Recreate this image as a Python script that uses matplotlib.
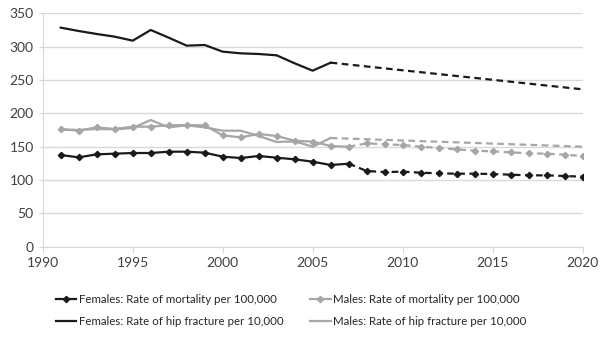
import matplotlib.pyplot as plt

# observed years and values
years_obs = list(range(1991, 2008))
fem_mort = [137.5, 134, 138.5, 139.5, 140.5, 140.5, 142.5, 142.5, 141, 135, 133, 136, 133.5, 131, 127.5, 122.5, 124.5]
male_mort = [176, 174, 179, 176.5, 180, 180, 182, 182.5, 182, 167, 164, 169, 166, 159, 157.5, 151, 150]

years_hip = list(range(1991, 2007))
fem_hip = [328.5, 323.5, 319, 315, 309, 325, 313.5, 301.5, 302.5, 292.5, 290, 289, 287, 275, 264, 276]
male_hip = [176, 175, 176.5, 176, 178, 190, 179, 182, 179, 174, 174, 166, 157, 158, 150, 163]

# projections
years_proj = list(range(2007, 2021))
fem_mort_proj = [124.5, 113.5, 112, 112.5, 111, 110, 109.5, 109.5, 109, 108, 107, 107, 106, 105]
male_mort_proj = [150, 155, 153.5, 152.5, 150, 148, 146, 144, 143, 141.5, 140, 139.5, 138, 136]
years_hip_proj = [2006, 2020]
fem_hip_proj = [276, 236]
male_hip_proj = [163, 150]

BLACK = '#1a1a1a'
GREY = '#a6a6a6'

plt.rcParams['font.family'] = ['Lato', 'DejaVu Sans']

fig = plt.figure(figsize=(6.04, 3.39), dpi=100)
ax = fig.add_axes([0.0707, 0.2723, 0.894, 0.6884])

l1, = ax.plot(years_obs, fem_mort, color=BLACK, lw=1.6, marker='D', ms=3.2,
              label='Females: Rate of mortality per 100,000')
ax.plot(years_proj, fem_mort_proj, color=BLACK, lw=1.6, ls=(0, (3, 2)), marker='D', ms=3.2,
        markevery=list(range(1, len(years_proj))))
l2, = ax.plot(years_obs, male_mort, color=GREY, lw=1.6, marker='D', ms=3.2,
              label='Males: Rate of mortality per 100,000')
ax.plot(years_proj, male_mort_proj, color=GREY, lw=1.6, ls=(0, (3, 2)), marker='D', ms=3.2,
        markevery=list(range(1, len(years_proj))))
l3, = ax.plot(years_hip, fem_hip, color=BLACK, lw=1.6,
              label='Females: Rate of hip fracture per 10,000')
ax.plot(years_hip_proj, fem_hip_proj, color=BLACK, lw=1.6, ls=(0, (3, 2)))
l4, = ax.plot(years_hip, male_hip, color=GREY, lw=1.6,
              label='Males: Rate of hip fracture per 10,000')
ax.plot(years_hip_proj, male_hip_proj, color=GREY, lw=1.6, ls=(0, (3, 2)))

ax.set_xlim(1990, 2020)
ax.set_ylim(0, 350)
ax.set_xticks(range(1990, 2021, 5))
ax.set_yticks(range(0, 351, 50))
ax.grid(axis='y', color='#d9d9d9', lw=1)
ax.set_axisbelow(True)
for s in ['top', 'right']:
    ax.spines[s].set_visible(False)
for s in ['left', 'bottom']:
    ax.spines[s].set_color('#d9d9d9')
ax.tick_params(axis='both', colors='#d9d9d9', labelcolor='#404040', labelsize=10, length=4)
ax.tick_params(axis='y', length=3)

fig.legend(handles=[l1, l3, l2, l4], ncol=2, loc='center left',
           bbox_to_anchor=(0.075, 0.083), frameon=False, fontsize=8.3,
           handlelength=1.8, handletextpad=0.2, columnspacing=2.3, labelspacing=0.95,
           labelcolor='#262626')

fig.savefig('out.png', dpi=100)
